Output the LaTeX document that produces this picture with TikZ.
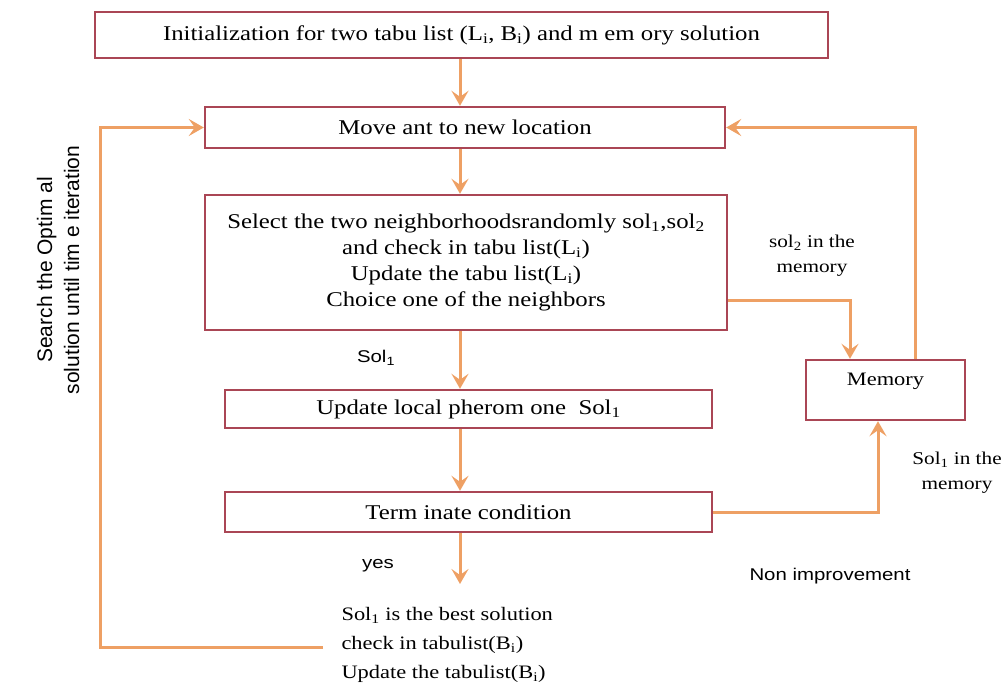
\documentclass[tikz,border=0pt]{standalone}
\usepackage{fontspec}
\setmainfont{Liberation Serif}[FakeStretch=1.18]
\setsansfont{Liberation Sans}[FakeStretch=1.2]
\newfontfamily\vsans{Liberation Sans}
\usetikzlibrary{arrows.meta,calc}
\definecolor{boxred}{RGB}{170,70,85}
\definecolor{arr}{RGB}{238,160,100}
\tikzset{
  box/.style={draw=boxred,line width=2.4pt,fill=white,inner sep=2pt,font=\fontsize{21}{26}\selectfont,align=center},
  conn/.style={draw=arr,line width=3pt,-{Stealth[length=15pt,width=17pt,inset=6pt]}},
  lbl/.style={font=\fontsize{18}{25}\selectfont,align=center},
  slbl/.style={font=\sffamily\fontsize{17}{20}\selectfont},
}
\begin{document}
\begin{tikzpicture}[x=1pt,y=-1pt]
\useasboundingbox (0,0) rectangle (1007,686);
\node[box,minimum width=733pt,minimum height=46pt] (top) at (461.5,35) {Initialization for two tabu list (L\textsubscript{i}, B\textsubscript{i}) and m em ory solution};
\node[box,minimum width=520pt,minimum height=41pt] (move) at (465,127.5) {Move ant to new location};
\node[box,minimum width=522pt,minimum height=135pt] (sel) at (466,262.5) {Select the two neighborhoodsrandomly sol\textsubscript{1},sol\textsubscript{2}\\and check in tabu list(L\textsubscript{i})\\Update the tabu list(L\textsubscript{i})\\Choice one of the neighbors};
\node[box,minimum width=487pt,minimum height=38pt] (upd) at (468.5,409) {Update local pherom one\ \ Sol\textsubscript{1}};
\node[box,minimum width=487pt,minimum height=40pt] (term) at (468.5,512) {Term inate condition};
\node[box,minimum width=159pt,minimum height=60pt] (mem) at (885.5,390) {};
\node[font=\fontsize{19}{20}\selectfont] (memtxt) at (885.5,381) {Memory};
\node[font=\fontsize{19}{29}\selectfont,align=left,anchor=west] (best) at (338,645) {Sol\textsubscript{1} is the best solution\\check in tabulist(B\textsubscript{i})\\Update the tabulist(B\textsubscript{i})};

% labels
\node[lbl] (l2) at (812,256) {sol\textsubscript{2} in the\\memory};
\node[lbl] (l1) at (957,473) {Sol\textsubscript{1} in the\\memory};
\node[slbl] (lsol) at (376,358) {Sol\textsubscript{1}};
\node[slbl] (lyes) at (378,566) {yes};
\node[slbl] (lnon) at (830,576) {Non improvement};
\node[font=\vsans\fontsize{21}{27}\selectfont,align=center,rotate=90] (lsearch) at (58,270) {Search the Optim al\\solution until tim e iteration};

% main flow
\draw[conn] (top.south -| 460,0) -- (move.north -| 460,0);
\draw[conn] (move.south -| 460,0) -- (sel.north -| 460,0);
\draw[conn] (sel.south -| 460,0) -- (upd.north -| 460,0);
\draw[conn] (upd.south -| 460,0) -- (term.north -| 460,0);
\draw[conn] (term.south -| 460,0) -- (460,584);

% loops
\coordinate (bl) at (323,647);
\draw[conn] (bl) -- (100,647) |- (move.west);
\draw[conn] (mem.north -| 915,0) |- (move.east);
\draw[conn] ($(sel.east)+(0,38)$) -| (mem.north -| 850,0);
\draw[conn] (term.east) -| (mem.south -| 878,0);
\end{tikzpicture}
\end{document}
